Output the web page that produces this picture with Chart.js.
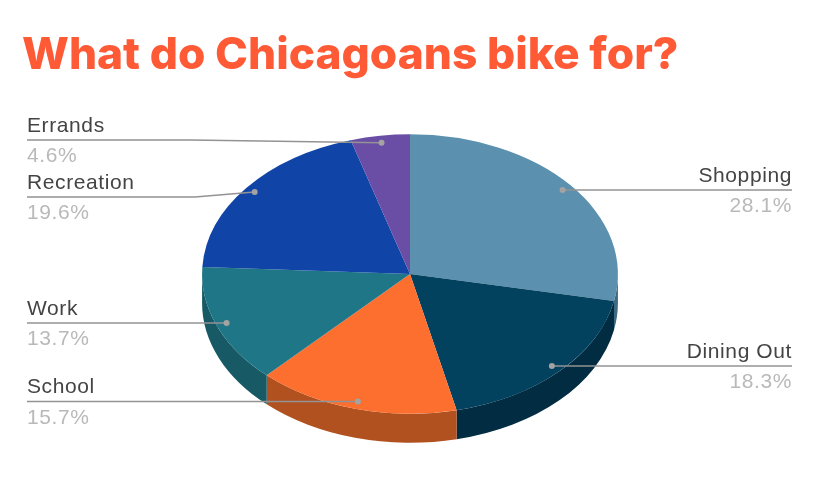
<!DOCTYPE html>
<html>
<head>
<meta charset="utf-8">
<title>What do Chicagoans bike for?</title>
<script src="https://cdn.jsdelivr.net/npm/chart.js@4/dist/chart.umd.min.js"></script>
<style>
    html, body { margin: 0; padding: 0; background: #fff; }
    #wrap { width: 827px; height: 485px; }
</style>
</head>
<body>
<div id="wrap"><canvas id="pie" width="827" height="485"></canvas></div>
<script>
const categories = ['Shopping', 'Dining Out', 'School', 'Work', 'Recreation', 'Errands'];
const shares = [28.1, 18.3, 15.7, 13.7, 19.6, 4.6];

const topColors = ['#5b90af', '#02425f', '#fd6f2f', '#1f7686', '#1045a7', '#6a4ea5'];
const wallColors = ['#3f6a82', '#012c42', '#b15120', '#175a66', '#0b3178', '#4b3776'];

// the tilt of the disc
const squash = 0.672;
const depth = 29;

// where each callout sits: text side, y of the rule, and an optional bend
const callouts = [
    { side: 'right', y: 190 },
    { side: 'right', y: 366 },
    { side: 'left', y: 401.5 },
    { side: 'left', y: 323 },
    { side: 'left', y: 197, bendX: 195 },
    { side: 'left', y: 140, bendX: 190 }
];
const leftX = 27;
const rightX = 792;
const dotRadius = 0.95;

const pieTilt = {
    id: 'pieTilt',
    beforeDatasetsDraw(chart) {
        const ctx = chart.ctx;
        const arcs = chart.getDatasetMeta(0).data;

        // side wall, only the part of each slice on the front half
        arcs.forEach((arc, i) => {
            const a0 = Math.max(arc.startAngle, 0);
            const a1 = Math.min(arc.endAngle, Math.PI);
            if (a1 <= a0) return;
            const rx = arc.outerRadius;
            const ry = rx * squash;
            ctx.beginPath();
            ctx.ellipse(arc.x, arc.y, rx, ry, 0, a0, a1);
            ctx.ellipse(arc.x, arc.y + depth, rx, ry, 0, a1, a0, true);
            ctx.closePath();
            ctx.fillStyle = wallColors[i];
            ctx.fill();
        });

        const c = arcs[0];
        ctx.save();
        ctx.translate(c.x, c.y);
        ctx.scale(1, squash);
        ctx.translate(-c.x, -c.y);
    },
    afterDatasetsDraw(chart) {
        const ctx = chart.ctx;
        ctx.restore();

        chart.getDatasetMeta(0).data.forEach((arc, i) => {
            const mid = (arc.startAngle + arc.endAngle) / 2;
            const dotX = arc.x + Math.cos(mid) * arc.outerRadius * dotRadius;
            const dotY = arc.y + Math.sin(mid) * arc.outerRadius * squash * dotRadius;
            const co = callouts[i];
            const endX = co.side === 'left' ? leftX : rightX;

            ctx.beginPath();
            ctx.moveTo(endX, co.y);
            if (co.bendX) ctx.lineTo(co.bendX, co.y);
            ctx.lineTo(dotX, co.bendX ? dotY : co.y);
            ctx.strokeStyle = '#939393';
            ctx.lineWidth = 1.6;
            ctx.stroke();

            ctx.beginPath();
            ctx.arc(dotX, co.bendX ? dotY : co.y, 3, 0, Math.PI * 2);
            ctx.fillStyle = '#a3a3a3';
            ctx.fill();

            ctx.textAlign = co.side === 'left' ? 'left' : 'right';
            ctx.textBaseline = 'alphabetic';
            ctx.font = '21px "Liberation Sans", Arial, sans-serif';
            ctx.letterSpacing = '0.6px';
            ctx.fillStyle = '#444444';
            ctx.fillText(categories[i], endX, co.y - 8.5);
            ctx.fillStyle = '#b9b9b9';
            ctx.fillText(shares[i].toFixed(1) + '%', endX, co.y + 22);
            ctx.letterSpacing = '0px';
        });
    }
};

new Chart(document.getElementById('pie').getContext('2d'), {
    type: 'pie',
    data: {
        labels: categories,
        datasets: [{
            data: shares,
            backgroundColor: topColors,
            borderWidth: 0
        }]
    },
    options: {
        responsive: false,
        animation: false,
        layout: { padding: { left: 22, right: 29, top: 0, bottom: 3 } },
        plugins: {
            legend: { display: false },
            tooltip: { enabled: false },
            title: {
                display: true,
                text: 'What do Chicagoans bike for?',
                align: 'start',
                color: '#ff5a36',
                font: { family: 'Inter', size: 44.3, weight: '800', lineHeight: 1.2 },
                padding: { top: 29, bottom: -16 }
            }
        }
    },
    plugins: [pieTilt]
});
</script>
</body>
</html>
